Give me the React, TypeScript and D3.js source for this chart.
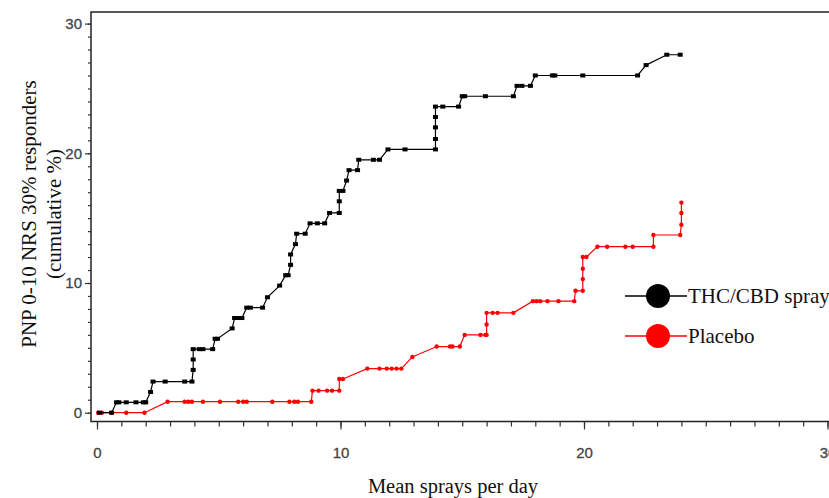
import React, { useEffect, useRef } from "react";
import * as d3 from "d3";

// THC/CBD spray group (cumulative % responders vs mean sprays per day)
const thcX = [
  0.1, 0.6, 0.8, 0.9, 1.2, 1.6, 1.9, 2.0, 2.2, 2.3, 2.8, 3.6, 3.9, 3.95, 3.95,
  3.95, 4.2, 4.35, 4.75, 4.85, 4.95, 5.55, 5.65, 5.8, 5.95, 6.15, 6.3, 6.8, 7.0,
  7.5, 7.75, 7.85, 7.95, 7.95, 8.15, 8.2, 8.55, 8.75, 9.05, 9.35, 9.55, 9.95,
  9.95, 9.95, 10.1, 10.25, 10.35, 10.7, 10.75, 11.35, 11.6, 11.95, 12.65, 13.9,
  13.9, 13.9, 13.9, 13.9, 14.2, 14.85, 15.0, 15.1, 15.95, 17.1, 17.25, 17.45,
  17.8, 18.0, 18.7, 18.8, 19.95, 22.2, 22.55, 23.4, 23.95,
];
const thcY = [
  0, 0, 0.8, 0.8, 0.8, 0.8, 0.8, 0.8, 1.6, 2.4, 2.4, 2.4, 2.4, 3.3, 4.1, 4.9,
  4.9, 4.9, 4.9, 5.7, 5.7, 6.5, 7.3, 7.3, 7.3, 8.1, 8.1, 8.1, 8.9, 9.8, 10.6,
  10.6, 11.4, 12.2, 13.0, 13.8, 13.8, 14.6, 14.6, 14.6, 15.4, 15.4, 16.3, 17.1,
  17.1, 17.9, 18.7, 18.7, 19.5, 19.5, 19.5, 20.3, 20.3, 20.3, 21.1, 22.0, 22.8,
  23.6, 23.6, 23.6, 24.4, 24.4, 24.4, 24.4, 25.2, 25.2, 25.2, 26.0, 26.0, 26.0,
  26.0, 26.0, 26.8, 27.6, 27.6,
];

// Placebo group
const placeboX = [
  0.05, 0.2, 0.6, 1.2, 1.95, 2.9, 3.6, 3.75, 3.9, 4.35, 5.05, 5.8, 6.0, 6.15,
  7.2, 7.9, 8.1, 8.25, 8.8, 8.85, 9.1, 9.45, 9.65, 9.95, 9.95, 10.1, 11.1, 11.6,
  11.9, 12.1, 12.3, 12.5, 12.95, 13.95, 14.5, 14.6, 14.9, 15.1, 15.75, 15.95,
  16.0, 16.0, 16.0, 16.25, 16.45, 17.1, 17.9, 18.05, 18.2, 18.5, 18.95, 19.6,
  19.65, 19.95, 19.95, 19.95, 19.95, 20.1, 20.55, 20.95, 21.7, 22.0, 22.85,
  22.85, 23.95, 24.0, 24.0, 24.0,
];
const placeboY = [
  0, 0, 0, 0, 0, 0.85, 0.85, 0.85, 0.85, 0.85, 0.85, 0.85, 0.85, 0.85, 0.85,
  0.85, 0.85, 0.85, 0.85, 1.7, 1.7, 1.7, 1.7, 1.7, 2.6, 2.6, 3.4, 3.4, 3.4, 3.4,
  3.4, 3.4, 4.3, 5.1, 5.1, 5.1, 5.1, 6.0, 6.0, 6.0, 6.0, 6.8, 7.7, 7.7, 7.7,
  7.7, 8.6, 8.6, 8.6, 8.6, 8.6, 8.6, 9.4, 9.4, 10.3, 11.1, 12.0, 12.0, 12.8,
  12.8, 12.8, 12.8, 12.8, 13.7, 13.7, 14.5, 15.4, 16.2,
];

const seriesNames = ["THC/CBD spray", "Placebo"];
const seriesColors = ["#000000", "#ff0000"];
const axisTicks = [0, 10, 20, 30];

export default function App() {
  const ref = useRef<SVGSVGElement>(null);

  useEffect(() => {
    const svg = d3.select(ref.current);
    svg.selectAll("*").remove();

    const x = d3.scaleLinear().domain([0, 30]).range([97, 827.5]);
    const y = d3.scaleLinear().domain([0, 30]).range([412.7, 23.6]);

    const frameLeft = 91,
      frameTop = 12,
      frameBottom = 421.5,
      frameRight = 840;

    // frame
    svg
      .append("path")
      .attr(
        "d",
        `M${frameRight},${frameTop}H${frameLeft}V${frameBottom}H${frameRight}`
      )
      .attr("fill", "none")
      .attr("stroke", "#222")
      .attr("stroke-width", 1.5);

    // y axis: minor + major ticks
    const yMinor = svg
      .append("g")
      .attr("transform", `translate(${frameLeft},0)`)
      .call(
        d3
          .axisLeft(y)
          .tickValues(d3.range(0, 31))
          .tickSize(3)
          .tickFormat(() => "")
      );
    yMinor.select(".domain").remove();
    const yMajor = svg
      .append("g")
      .attr("transform", `translate(${frameLeft},0)`)
      .call(d3.axisLeft(y).tickValues(axisTicks).tickSize(6).tickPadding(3));
    yMajor.select(".domain").remove();

    // x axis
    const xMinor = svg
      .append("g")
      .attr("transform", `translate(0,${frameBottom})`)
      .call(
        d3
          .axisBottom(x)
          .tickValues(d3.range(0, 31))
          .tickSize(5)
          .tickFormat(() => "")
      );
    xMinor.select(".domain").remove();
    const xMajor = svg
      .append("g")
      .attr("transform", `translate(0,${frameBottom})`)
      .call(d3.axisBottom(x).tickValues(axisTicks).tickSize(8).tickPadding(18));
    xMajor.select(".domain").remove();

    svg
      .selectAll(".tick line")
      .attr("stroke", "#333")
      .attr("stroke-width", 1.2);
    svg
      .selectAll(".tick text")
      .attr("font-family", "Liberation Sans, Arial, sans-serif")
      .attr("font-size", 15)
      .attr("fill", "#444")
      .attr("stroke", "#444")
      .attr("stroke-width", 0.3);

    const line = d3
      .line<[number, number]>()
      .x((d) => x(d[0]))
      .y((d) => y(d[1]));

    // placebo first, drug series on top
    const placebo: [number, number][] = placeboX.map((v, i) => [v, placeboY[i]]);
    const thc: [number, number][] = thcX.map((v, i) => [v, thcY[i]]);

    svg
      .append("path")
      .datum(placebo)
      .attr("d", line)
      .attr("fill", "none")
      .attr("stroke", seriesColors[1])
      .attr("stroke-width", 1.2);
    svg
      .append("g")
      .selectAll("circle")
      .data(placebo)
      .enter()
      .append("circle")
      .attr("cx", (d) => x(d[0]))
      .attr("cy", (d) => y(d[1]))
      .attr("r", 2.2)
      .attr("fill", seriesColors[1]);

    svg
      .append("path")
      .datum(thc)
      .attr("d", line)
      .attr("fill", "none")
      .attr("stroke", seriesColors[0])
      .attr("stroke-width", 1.2);
    svg
      .append("g")
      .selectAll("rect")
      .data(thc)
      .enter()
      .append("rect")
      .attr("x", (d) => x(d[0]) - 2.5)
      .attr("y", (d) => y(d[1]) - 2)
      .attr("width", 5)
      .attr("height", 4)
      .attr("fill", seriesColors[0]);

    // legend
    const legend = svg
      .append("g")
      .selectAll("g")
      .data(seriesNames)
      .enter()
      .append("g")
      .attr("transform", (d, i) => `translate(625,${296 + i * 40})`);
    legend
      .append("line")
      .attr("x1", 0)
      .attr("x2", 62)
      .attr("stroke", (d, i) => seriesColors[i])
      .attr("stroke-width", 1.3);
    legend
      .append("circle")
      .attr("cx", 33)
      .attr("r", 12)
      .attr("fill", (d, i) => seriesColors[i]);
    legend
      .append("text")
      .attr("x", 63)
      .attr("y", 7)
      .attr("font-family", "Liberation Serif, Times New Roman, serif")
      .attr("font-size", 21)
      .attr("fill", "#111")
      .text((d) => d);

    // axis titles
    svg
      .append("text")
      .attr("x", 453)
      .attr("y", 493)
      .attr("text-anchor", "middle")
      .attr("font-family", "Liberation Serif, Times New Roman, serif")
      .attr("font-size", 20.5)
      .attr("fill", "#111")
      .text("Mean sprays per day");

    const yTitle = svg
      .append("text")
      .attr("transform", "translate(36,214) rotate(-90)")
      .attr("text-anchor", "middle")
      .attr("font-family", "Liberation Serif, Times New Roman, serif")
      .attr("font-size", 21)
      .attr("fill", "#111");
    yTitle.append("tspan").attr("x", 0).attr("y", 0).text("PNP 0-10 NRS 30% responders");
    yTitle.append("tspan").attr("x", 0).attr("y", 25).text("(cumulative %)");
  }, []);

  return (
    <svg
      ref={ref}
      width={829}
      height={498}
      style={{ position: "absolute", left: 0, top: 0, background: "#fff" }}
    ></svg>
  );
}
